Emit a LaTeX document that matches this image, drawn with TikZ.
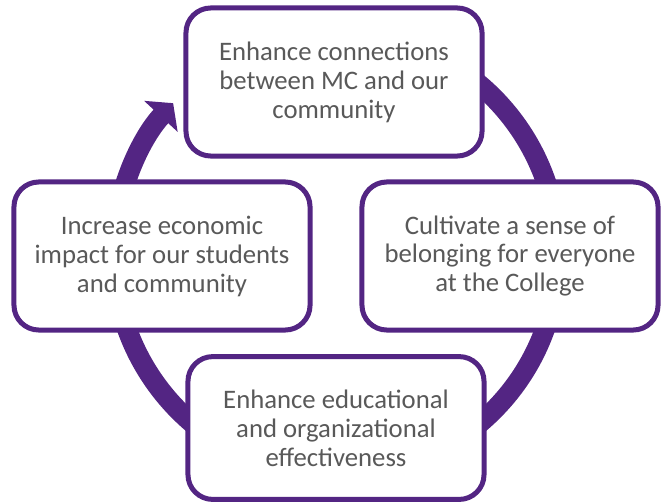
\documentclass[tikz,border=0pt]{standalone}
\usepackage{fontspec}
\setmainfont{Carlito}
\usepackage{tikz}
\usetikzlibrary{arrows.meta,positioning}
\definecolor{mcpurple}{RGB}{83,37,131}
\definecolor{textgray}{RGB}{89,89,89}

\begin{document}
\begin{tikzpicture}[x=0.025cm,y=0.025cm,outer sep=0pt,inner sep=2pt]
      \tikzset{goal/.style={align=center,shape=rectangle,rounded corners=0.62cm,minimum height=3.7cm,minimum width=7.4cm,draw=mcpurple,line width=0.125cm,fill=white,text=textgray,font=\fontsize{19}{20.6}\selectfont}}
      \tikzset{ring/.style={draw=mcpurple,line width=0.5cm,-{Triangle[length=0.45cm,width=1.12cm]}}}

      \useasboundingbox (0,0) rectangle (662,502);
      \coordinate (hub) at (336,248);

      % cycle behind the boxes
      \draw [ring] (hub) ++(80:222) arc[start angle=80,end angle=-222.8,radius=222];

      \node [goal] (connect) at (334,420) {Enhance connections\\between MC and our\\community};
      \node [goal] (belong) at (510,246) {Cultivate a sense of\\belonging for everyone\\at the College};
      \node [goal,minimum height=3.57cm] (effect) at (336,74) {Enhance educational\\and organizational\\effectiveness};
      \node [goal] (impact) at (162,246) {Increase economic\\impact for our students\\and community};
\end{tikzpicture}
\end{document}
